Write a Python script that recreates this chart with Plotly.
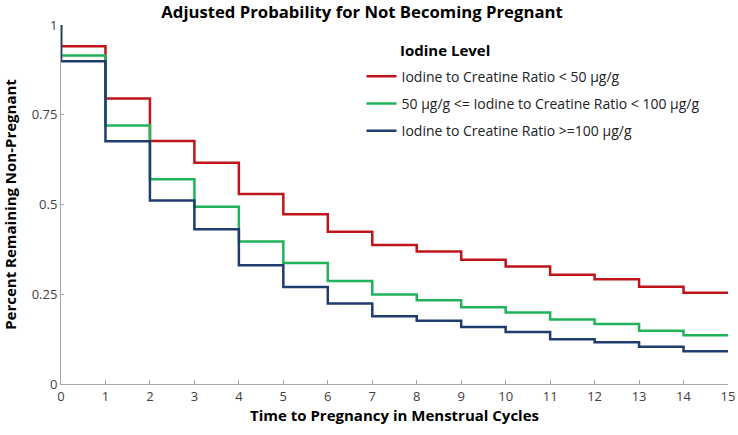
import plotly.graph_objects as go

# Data
cycles = list(range(0, 16))

low_iodine = [1.0, 0.941, 0.795, 0.677, 0.616, 0.529, 0.473, 0.424, 0.387,
              0.369, 0.346, 0.327, 0.304, 0.292, 0.271, 0.254]
mid_iodine = [1.0, 0.915, 0.720, 0.570, 0.494, 0.397, 0.337, 0.287, 0.249,
              0.233, 0.214, 0.199, 0.180, 0.167, 0.148, 0.136]
high_iodine = [1.0, 0.899, 0.676, 0.511, 0.431, 0.331, 0.270, 0.224, 0.189,
               0.176, 0.159, 0.145, 0.125, 0.116, 0.104, 0.091]

series_names = [
    "Iodine to Creatine Ratio < 50 \u00b5g/g",
    "50 \u00b5g/g <= Iodine to Creatine Ratio < 100 \u00b5g/g",
    "Iodine to Creatine Ratio >=100 \u00b5g/g",
]
series_colors = ["#c0141c", "#20b35a", "#1f3c6e"]

y_tickvals = [0, 0.25, 0.5, 0.75, 1]
y_ticktext = ["0", "0.25", "0.5", "0.75", "1"]

font_family = "Open Sans, Noto Sans, sans-serif"

fig = go.Figure()

for i, (name, values, color) in enumerate(zip(series_names, [low_iodine, mid_iodine, high_iodine], series_colors)):
    fig.add_trace(
        go.Scatter(
            x=cycles,
            y=values,
            name=name,
            legendgroup=str(i),
            mode="lines",
            line=dict(color=color, width=2.5, shape="vh"),
        )
    )

# Legend heading as annotation so it lines up with the item text
fig.add_annotation(
    text="<b>Iodine Level</b>",
    xref="paper", yref="paper",
    x=(398 - 61) / 667, y=(384 - 50) / 359,
    xanchor="left", yanchor="middle",
    showarrow=False,
    font=dict(size=15, color="black", family=font_family),
)

fig.update_layout(
    width=738,
    height=435,
    margin=dict(l=61, r=10, t=25, b=51),
    plot_bgcolor="white",
    paper_bgcolor="white",
    font=dict(family=font_family, color="#404040", size=13),
    title=dict(
        text="<b>Adjusted Probability for Not Becoming Pregnant</b>",
        xref="container", x=362 / 738, xanchor="center",
        y=1 - 12 / 435, yanchor="middle",
        font=dict(size=16.7, color="black", family=font_family),
    ),
    legend=dict(
        x=0.4505, y=0.9006,
        xanchor="left", yanchor="top",
        bgcolor="rgba(0,0,0,0)",
        font=dict(size=14, color="#222222", family=font_family),
        traceorder="grouped",
        tracegroupgap=6,
        itemwidth=30,
    ),
)

fig.update_xaxes(
    title_text="<b>Time to Pregnancy in Menstrual Cycles</b>",
    title_font=dict(size=15, color="black"),
    title_standoff=0,
    automargin="bottom",
    range=[0, 15],
    tickvals=cycles,
    showgrid=False,
    zeroline=False,
    showline=True,
    linecolor="#a6a6a6",
    linewidth=1,
    ticks="inside",
    ticklen=4,
    tickcolor="#a6a6a6",
)

fig.update_yaxes(
    title_text="<b>Percent Remaining Non-Pregnant</b>",
    title_font=dict(size=15, color="black"),
    title_standoff=11,
    automargin="left",
    range=[0, 1],
    tickvals=y_tickvals,
    ticktext=y_ticktext,
    showgrid=False,
    zeroline=False,
    showline=True,
    linecolor="#a6a6a6",
    linewidth=1,
    ticks="inside",
    ticklen=3,
    tickcolor="#a6a6a6",
)

# drop the default 8px body margin so the figure sits at the page's top-left corner
fig.write_html(
    "out.html",
    config={"displayModeBar": False},
    post_script="document.body.style.margin = '0';",
)
